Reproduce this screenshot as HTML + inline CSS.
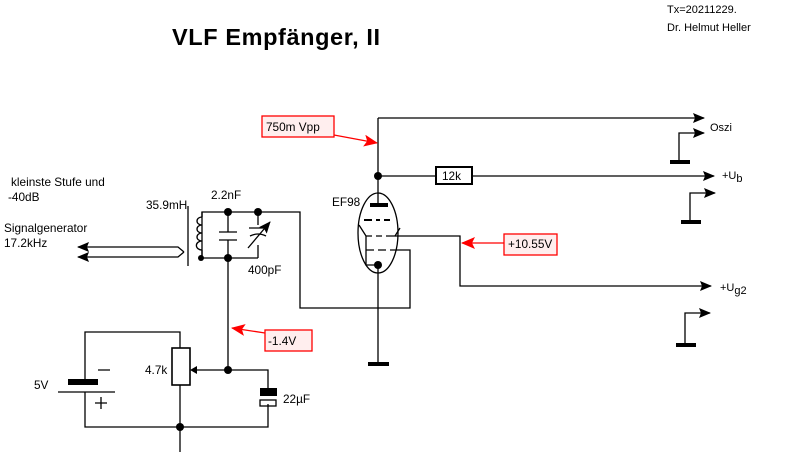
<!DOCTYPE html>
<html><head><meta charset="utf-8"><style>
html,body{margin:0;padding:0;background:#fff}
svg{display:block}
text{font-family:"Liberation Sans",sans-serif;fill:#000}
</style></head><body>
<svg width="790" height="457" viewBox="0 0 790 457" xmlns="http://www.w3.org/2000/svg">
<defs>
<marker id="ar" markerWidth="12" markerHeight="10" refX="11" refY="5" orient="auto" markerUnits="userSpaceOnUse"><path d="M0,0 L12,5 L0,10 L2,5 Z" fill="#000"/></marker>
<marker id="rar" markerWidth="14" markerHeight="12" refX="13" refY="6" orient="auto" markerUnits="userSpaceOnUse"><path d="M0,0 L14,6 L0,12 L3,6 Z" fill="#f00"/></marker>
</defs>
<text x="172" y="45" font-size="23.5" font-weight="bold" letter-spacing="0.6">VLF Empfänger, II</text>
<text x="667" y="13" font-size="11">Tx=20211229.</text>
<text x="667" y="31" font-size="11">Dr. Helmut Heller</text>

<g stroke="#000" stroke-width="1.3" fill="none">
<path d="M378,118 H704" marker-end="url(#ar)"/>
<path d="M679,161 V133 H704" marker-end="url(#ar)"/>
<path d="M378,118 V205"/>
<path d="M378,176 H436"/>
<rect x="436" y="167" width="36" height="17" stroke-width="2"/>
<path d="M472,176 H714" marker-end="url(#ar)"/>
<path d="M690,222 V193 H715" marker-end="url(#ar)"/>
<path d="M395,236 H460 V286 H711" marker-end="url(#ar)"/>
<path d="M685,345 V313 H710" marker-end="url(#ar)"/>
<ellipse cx="378" cy="233" rx="20" ry="40"/>
<path d="M364,220 H372 M376,220 H380 M384,220 H390" stroke-width="2"/>
<path d="M359,225 L366,236 H372 M376,236 H382 M386,236 H395 L400,228"/>
<path d="M366,250 H374 M378,250 H386 M390,250 H410 V308 H300 V212 H202 V258 H258"/>
<path d="M366,236 V265 H378"/>
<path d="M378,265 V363"/>
<path d="M258,212 V225 M258,245 V258"/>
<path d="M249,228 H267 M250,236 Q258,232 266,236"/>
<path d="M248,248 L270,222" marker-end="url(#ar)"/>
<path d="M228,212 V232 M228,240 V370"/>
<path d="M219,232 H237 M219,240 H237"/>
<path d="M202,212 V217 M202,250 V258"/>
<path d="M202,217 a5,4 0 0 0 0,8 a5,4 0 0 0 0,8 a5,4 0 0 0 0,8 a5,4 0 0 0 0,9"/>
<path d="M188,206 V266"/>
<path d="M184,252 L178,247 H78" marker-end="url(#ar)"/>
<path d="M184,252 L178,257 H78" marker-end="url(#ar)"/>
<rect x="172" y="348" width="18" height="37" stroke-width="1.6"/>
<path d="M180,348 V332 H85 V382 M85,392 V427 H268 V404 M268,392 V370 H228 H195"/>
<path d="M180,385 V452"/>
<path d="M58,392 H115"/>
<path d="M98,370 H110 M95,403 H107 M101,397 V409"/>
<rect x="260" y="400" width="16" height="6" stroke-width="1.3"/>
</g>
<g fill="#000">
<polygon points="190,370 197,366 197,374"/>
<rect x="68" y="379" width="30" height="6"/>
<rect x="260" y="388" width="17" height="8"/>
<rect x="370" y="203" width="18" height="4"/>
<rect x="670" y="160" width="20" height="4"/>
<rect x="681" y="220" width="20" height="4"/>
<rect x="676" y="343" width="20" height="4"/>
<rect x="368" y="362" width="21" height="4"/>
<circle cx="378" cy="176" r="4"/>
<circle cx="378" cy="265" r="4"/>
<circle cx="228" cy="212" r="4"/>
<circle cx="258" cy="212" r="4"/>
<circle cx="228" cy="258" r="4"/>
<circle cx="201" cy="258" r="3"/>
<circle cx="228" cy="370" r="4"/>
<circle cx="180" cy="427" r="4"/>
</g>
<text x="442" y="180" font-size="11.8">12k</text>
<text x="710" y="131" font-size="11">Oszi</text>
<text x="722" y="179" font-size="11">+U<tspan dy="3">b</tspan></text>
<text x="720" y="291" font-size="11">+U<tspan dy="3">g2</tspan></text>
<text x="332" y="206" font-size="11.8">EF98</text>
<text x="211" y="199" font-size="11.8">2.2nF</text>
<text x="146" y="209" font-size="11.8">35.9mH</text>
<text x="248" y="274" font-size="11.8">400pF</text>
<text x="11" y="186" font-size="11.8">kleinste Stufe und</text>
<text x="8" y="201" font-size="11.8">-40dB</text>
<text x="4" y="232" font-size="11.8">Signalgenerator</text>
<text x="4" y="247" font-size="11.8">17.2kHz</text>
<text x="145" y="374" font-size="11.8">4.7k</text>
<text x="34" y="389" font-size="11.8">5V</text>
<text x="283" y="403" font-size="11.8">22µF</text>
<g stroke="#f00" stroke-width="1.3">
<rect x="262" y="116" width="72" height="21" fill="#fee"/>
<path d="M334,135 L377,143" marker-end="url(#rar)"/>
<rect x="504" y="234" width="53" height="21" fill="#fee"/>
<path d="M504,243 L462,243" marker-end="url(#rar)"/>
<rect x="265" y="330" width="47" height="21" fill="#fee"/>
<path d="M265,333 L232,328" marker-end="url(#rar)"/>
</g>
<text x="266" y="131" font-size="11.8">750m Vpp</text>
<text x="508" y="248" font-size="11.8">+10.55V</text>
<text x="268" y="345" font-size="11.8">-1.4V</text>
</svg>
</body></html>
